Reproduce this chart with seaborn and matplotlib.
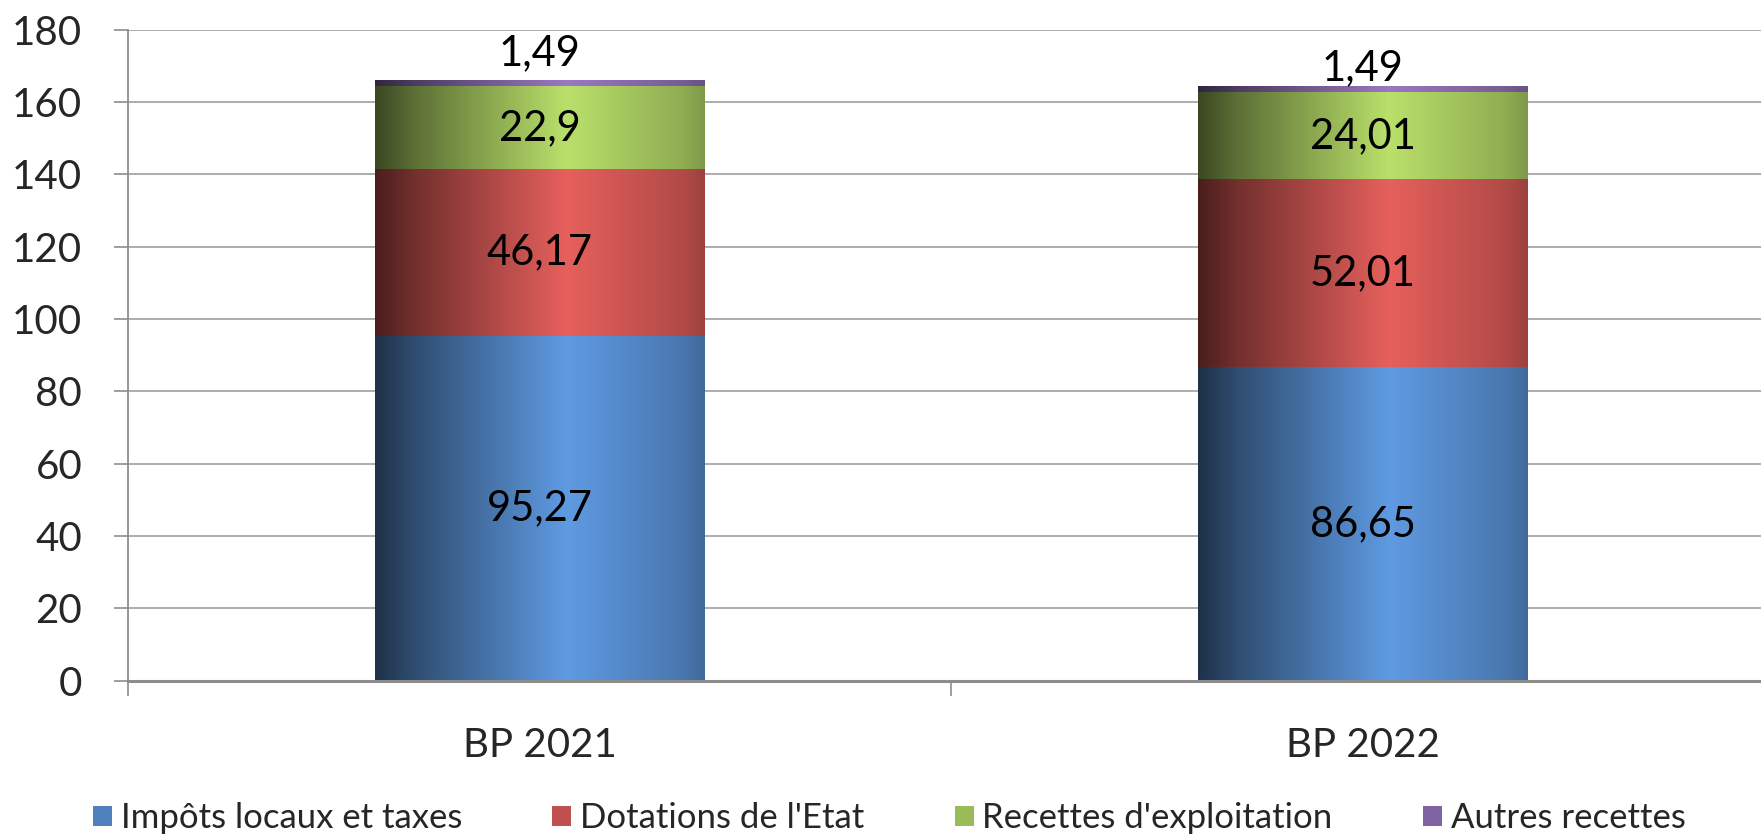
import numpy as np
import matplotlib
matplotlib.use("Agg")
import matplotlib.pyplot as plt
from matplotlib.colors import to_rgb
from matplotlib.patches import Patch
import seaborn as sns

# data
categories = ["BP 2021", "BP 2022"]
impots = [95.27, 86.65]
dotations = [46.17, 52.01]
recettes = [22.9, 24.01]
autres = [1.49, 1.49]
series_names = ["Impôts locaux et taxes", "Dotations de l'Etat",
                "Recettes d'exploitation", "Autres recettes"]
y_ticks = [0, 20, 40, 60, 80, 100, 120, 140, 160, 180]

COLORS = ["#4F81BD", "#C0504D", "#9BBB59", "#8064A2"]
GRID = "#A6A6A6"
AXIS = "#8C8C8C"

sns.set_theme(style="white")
plt.rcParams["font.family"] = ["Lato", "DejaVu Sans"]


def fmt(v):
    return f"{v:g}".replace(".", ",")


def gradient_fill(ax, patch, base, zorder):
    # excel-like horizontal shading: dark left edge, highlight right of centre
    stops = [0.0, 0.12, 0.58, 0.93, 1.0]
    factors = [0.38, 0.6, 1.2, 0.93, 0.82]
    t = np.linspace(0, 1, 256)
    f = np.interp(t, stops, factors)
    rgb = np.clip(np.outer(f, to_rgb(base)), 0, 1)[None, :, :]
    x, y = patch.get_x(), patch.get_y()
    w, h = patch.get_width(), patch.get_height()
    ax.imshow(rgb, extent=[x, x + w, y, y + h], aspect="auto",
              interpolation="bilinear", zorder=zorder)


fig = plt.figure(figsize=(17.61, 8.35), dpi=100)
ax = fig.add_axes([0.0727, 0.1848, 0.9347, 0.7796])

series = [impots, dotations, recettes, autres]
bottom = np.zeros(len(categories))
for i, vals in enumerate(series):
    sns.barplot(x=categories, y=vals, bottom=bottom.copy(), color=COLORS[i],
                saturation=1, width=0.4, edgecolor="none", ax=ax, zorder=3)
    bottom += np.array(vals)

for cont, base in zip(ax.containers, COLORS):
    for p in cont.patches:
        gradient_fill(ax, p, base, zorder=3.5)

# value labels
for cont, vals in zip(ax.containers[:3], series[:3]):
    ax.bar_label(cont, labels=[fmt(v) for v in vals], label_type="center",
                 fontsize=30, color="black", zorder=5)

top_pad = [11, 5]
for p, v, pad in zip(ax.containers[3].patches, autres, top_pad):
    ax.annotate(fmt(v), (p.get_x() + p.get_width() / 2, p.get_y() + p.get_height()),
                xytext=(0, pad), textcoords="offset points", ha="center",
                va="baseline", fontsize=30, color="black", zorder=5)

ax.set_xlim(-0.5, 1.5)
ax.set_ylim(0, 180)
ax.set_yticks(y_ticks)
ax.set_xticks([0, 1])
ax.set_xticklabels(categories)
ax.set_xticks([-0.5, 0.5, 1.5], minor=True)
ax.set_xlabel("")
ax.set_ylabel("")

ax.grid(axis="y", color=GRID, linewidth=1.3, zorder=0)
ax.set_axisbelow(True)
ax.tick_params(axis="y", labelsize=29, length=10, width=1.2, color=AXIS,
               pad=23, left=True)
ax.tick_params(axis="x", which="major", labelsize=29, length=0, pad=33)
ax.tick_params(axis="x", which="minor", length=11, width=1.2, color=AXIS,
               bottom=True)

for s in ["top", "right"]:
    ax.spines[s].set_visible(False)
ax.spines["left"].set_color(AXIS)
ax.spines["left"].set_linewidth(1.3)
ax.spines["bottom"].set_color(AXIS)
ax.spines["bottom"].set_linewidth(2.2)
ax.spines["bottom"].set_zorder(4)

handles = [Patch(facecolor=c, edgecolor="none") for c in COLORS]
fig.legend(handles, series_names, loc="center", bbox_to_anchor=(0.505, 0.02),
           ncol=4, frameon=False, fontsize=25, handlelength=0.55,
           handleheight=0.55, handletextpad=0.25, columnspacing=2.6,
           borderpad=0)

fig.savefig("out.png", dpi=100)
